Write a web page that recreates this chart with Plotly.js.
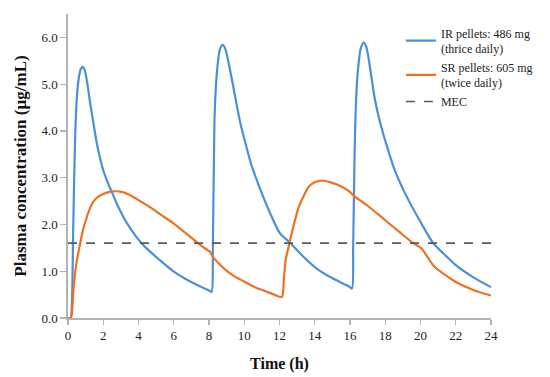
<!DOCTYPE html>
<html>
<head>
<meta charset="utf-8">
<script src="https://cdn.plot.ly/plotly-3.0.1.min.js"></script>
<style>html,body{margin:0;padding:0;background:#fff;}#chart{width:550px;height:377px;}</style>
</head>
<body>
<div id="chart"></div>
<script>
// IR pellets: 486 mg (thrice daily)
const irTime = [0, 0.15, 0.22, 0.3, 0.4, 0.5, 0.6, 0.72, 0.83, 0.95, 1.1, 1.26, 1.45, 1.63, 1.8, 2.0, 2.25, 2.48, 2.8, 3.14, 3.6, 4.17, 4.6, 5.2, 6.0, 6.6, 7.3, 8.03, 8.15,
  8.22, 8.31, 8.4, 8.5, 8.62, 8.78, 8.92, 9.1, 9.34, 9.6, 9.8, 10.04, 10.4, 10.85, 11.4, 12.03, 12.63, 13.3, 14.0, 14.9, 15.92, 16.11,
  16.18, 16.26, 16.35, 16.45, 16.6, 16.77, 16.92, 17.05, 17.24, 17.4, 17.6, 17.8, 18.0, 18.5, 19.12, 20.05, 20.72, 21.3, 22.0, 23.0, 24.0];
const irConc = [0, 0, 0.3, 2.0, 3.8, 4.7, 5.1, 5.32, 5.37, 5.3, 5.0, 4.59, 4.15, 3.74, 3.45, 3.16, 2.9, 2.70, 2.42, 2.16, 1.88, 1.6, 1.44, 1.24, 0.99, 0.85, 0.71, 0.58, 0.56,
  1.5, 4.24, 5.0, 5.45, 5.75, 5.84, 5.76, 5.48, 5.02, 4.5, 4.13, 3.78, 3.28, 2.81, 2.3, 1.81, 1.6, 1.33, 1.09, 0.87, 0.68, 0.63,
  1.5, 3.52, 4.7, 5.3, 5.75, 5.89, 5.8, 5.56, 5.09, 4.7, 4.35, 4.05, 3.79, 3.2, 2.67, 2.02, 1.6, 1.38, 1.13, 0.87, 0.66];

// SR pellets: 605 mg (twice daily)
const srTime = [0, 0.15, 0.22, 0.32, 0.45, 0.55, 0.69, 0.85, 1.07, 1.25, 1.44, 1.7, 2.0, 2.3, 2.67, 3.1, 3.5, 4.0, 4.6, 5.3, 6.0, 6.7, 7.37, 7.8, 8.05,
  8.3, 8.6, 8.97, 9.5, 10.04, 10.6, 11.22, 11.7, 12.13, 12.25, 12.35, 12.6, 12.85, 13.1, 13.4, 13.67, 14.0, 14.42, 14.9, 15.36, 15.92, 16.3, 17.0, 18.0, 18.8, 19.59, 20.05,
  20.4, 20.81, 21.4, 22.0, 23.0, 24.0];
const srConc = [0, 0, 0.1, 0.66, 1.1, 1.33, 1.59, 1.88, 2.16, 2.35, 2.49, 2.59, 2.65, 2.69, 2.71, 2.69, 2.63, 2.52, 2.38, 2.2, 2.02, 1.81, 1.6, 1.48, 1.42,
  1.27, 1.15, 1.02, 0.88, 0.77, 0.66, 0.57, 0.5, 0.45, 0.85, 1.24, 1.66, 2.05, 2.38, 2.63, 2.81, 2.9, 2.94, 2.9, 2.84, 2.72, 2.59, 2.4, 2.09, 1.84, 1.6, 1.49,
  1.3, 1.09, 0.92, 0.77, 0.6, 0.48];

// Minimum effective concentration
const mecTime = [0, 24];
const mecConc = [1.6, 1.6];

const seriesNames = ['IR pellets: 486 mg<br>(thrice daily)', 'SR pellets: 605 mg<br>(twice daily)', 'MEC'];

const font = '"Liberation Serif", "Times New Roman", serif';
const axisCol = '#b3b3b3';

const traces = [
  {x: irTime, y: irConc, name: seriesNames[0], mode: 'lines', line: {color: '#4a90d9', width: 2.2, shape: 'spline', smoothing: 0.7}},
  {x: srTime, y: srConc, name: seriesNames[1], mode: 'lines', line: {color: '#f07021', width: 2.2, shape: 'spline', smoothing: 0.7}},
  {x: mecTime, y: mecConc, name: seriesNames[2], mode: 'lines', line: {color: '#595959', width: 1.6, dash: 'dash'}}
];

const layout = {
  width: 550, height: 377,
  margin: {l: 68, r: 57, t: 14, b: 59},
  paper_bgcolor: '#fff', plot_bgcolor: '#fff',
  font: {family: font, size: 13, color: '#222'},
  showlegend: true,
  legend: {x: 0.787, y: 0.985, xanchor: 'left', yanchor: 'top', bgcolor: 'rgba(0,0,0,0)',
           font: {family: font, size: 12, color: '#222'}, tracegroupgap: 0, itemwidth: 30},
  xaxis: {
    range: [0, 24], dtick: 2, tick0: 0, showgrid: false, zeroline: false,
    showline: true, linecolor: axisCol, linewidth: 1.6,
    ticks: 'outside', ticklen: 5, tickcolor: axisCol, tickwidth: 1.2,
    tickfont: {family: font, size: 13, color: '#222'},
    title: {text: '<b>Time (h)</b>', font: {family: font, size: 16, color: '#111'}, standoff: 15}
  },
  yaxis: {
    range: [0, 6.5], dtick: 1, tick0: 0, tickformat: '.1f', showgrid: false, zeroline: false,
    showline: true, linecolor: axisCol, linewidth: 1.6,
    ticks: 'outside', ticklen: 6, tickcolor: axisCol, tickwidth: 1.2,
    tickfont: {family: font, size: 13, color: '#222'},
    title: {text: '<b>Plasma concentration (µg/mL)</b>', font: {family: font, size: 17, color: '#111'}, standoff: 10}
  }
};

Plotly.newPlot('chart', traces, layout, {displayModeBar: false, staticPlot: true});
</script>
</body>
</html>
